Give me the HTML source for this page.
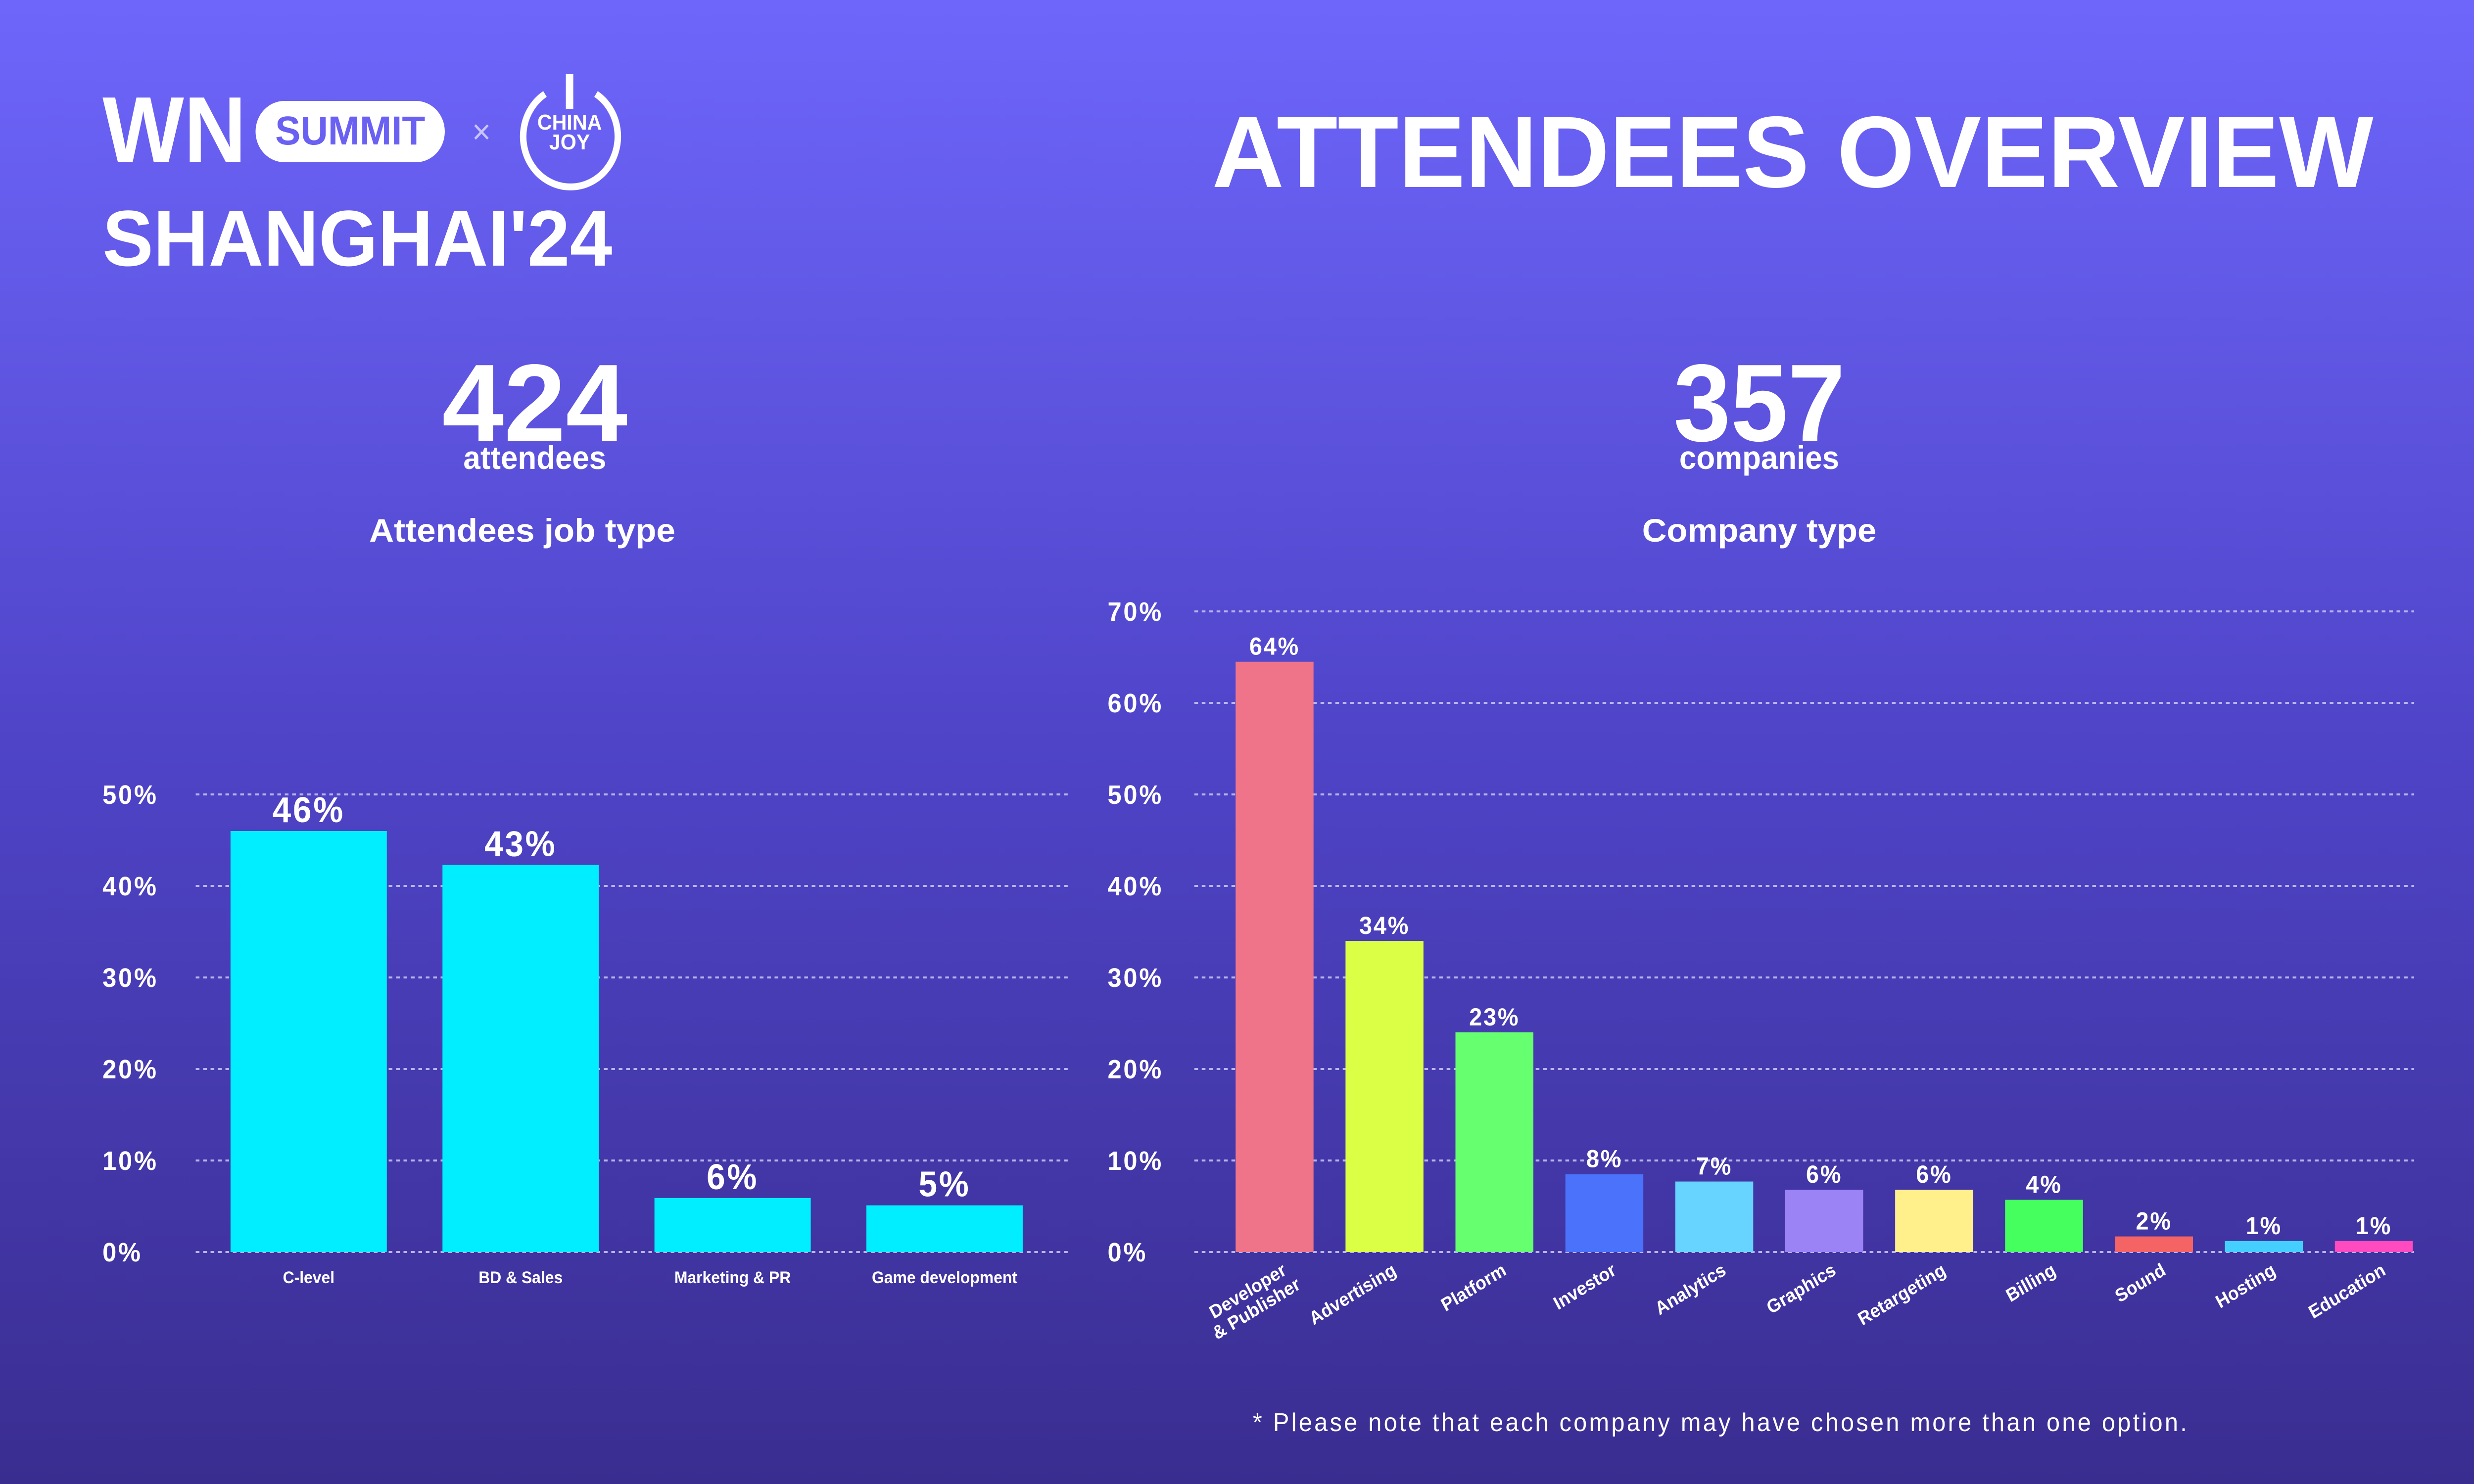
<!DOCTYPE html>
<html><head><meta charset="utf-8"><style>
html,body{margin:0;padding:0;width:100%;height:100%;overflow:hidden;background:#4f44c8}
svg{display:block;position:fixed;left:0;top:0;width:100vw;height:100vh;font-family:"Liberation Sans",sans-serif}
</style></head><body>
<svg id="root" viewBox="0 0 5334 3000" preserveAspectRatio="none">
<defs><linearGradient id="bg" x1="0" y1="0" x2="0" y2="1"><stop offset="0" stop-color="#6e66fb"/><stop offset="0.5" stop-color="#4f44c8"/><stop offset="1" stop-color="#3a2d90"/></linearGradient></defs>
<rect width="5334" height="3000" fill="url(#bg)"/>
<g fill="#fff">
<text x="221" y="328" font-size="190" font-weight="bold" textLength="310" lengthAdjust="spacingAndGlyphs">WN</text>
<rect x="551" y="204" width="408" height="124" rx="62" fill="#fff"/>
<text x="755" y="292" font-size="82" font-weight="bold" fill="#6a60f2" text-anchor="middle">SUMMIT</text>
<text x="1038" y="290" font-size="70" fill="#c8c4ff" text-anchor="middle">×</text>
<path d="M1175 190 A102 102 0 1 0 1285 190" fill="none" stroke="#fff" stroke-width="14"/>
<rect x="1220" y="150" width="16" height="70"/>
<text x="1228" y="262" font-size="44" font-weight="bold" text-anchor="middle">CHINA</text>
<text x="1228" y="302" font-size="44" font-weight="bold" text-anchor="middle">JOY</text>
<text x="221" y="537" font-size="160" font-weight="bold" textLength="1099" lengthAdjust="spacingAndGlyphs">SHANGHAI'24</text>
</g>
<text x="2613" y="378" font-size="205" font-weight="bold" fill="#fff" textLength="2504" lengthAdjust="spacingAndGlyphs">ATTENDEES OVERVIEW</text>
<g fill="#fff" font-weight="bold" text-anchor="middle">
<text x="1153" y="891" font-size="222" textLength="400" lengthAdjust="spacingAndGlyphs">424</text>
<text x="1153" y="948" font-size="66">attendees</text>
<text x="1126" y="1095" font-size="66" textLength="660" lengthAdjust="spacingAndGlyphs">Attendees job type</text>
<text x="3793" y="891" font-size="222" textLength="370" lengthAdjust="spacingAndGlyphs">357</text>
<text x="3793" y="948" font-size="66">companies</text>
<text x="3793" y="1095" font-size="66" textLength="505" lengthAdjust="spacingAndGlyphs">Company type</text>
</g>
<text x="3708" y="2893" font-size="52" fill="#fff" text-anchor="middle" textLength="2014" lengthAdjust="spacing">* Please note that each company may have chosen more than one option.</text>
<g id="left"></g>
<g id="right"></g>
</svg>
<script>
const jobCategories=["C-level","BD & Sales","Marketing & PR","Game development"];
const jobValues=[46,42.3,5.9,5.1];
const jobLabels=["46%","43%","6%","5%"];
const jobTicks=[0,10,20,30,40,50];
const compCategories=[["Developer","& Publisher"],["Advertising"],["Platform"],["Investor"],["Analytics"],["Graphics"],["Retargeting"],["Billing"],["Sound"],["Hosting"],["Education"]];
const compValues=[64.5,34,24,8.5,7.7,6.8,6.8,5.7,1.7,1.2,1.2];
const compLabels=["64%","34%","23%","8%","7%","6%","6%","4%","2%","1%","1%"];
const compColors=["#f07489","#dbff45","#66ff70","#4a72fa","#66d4ff","#9b82f5","#fff08c","#44ff5e","#f56464","#44cfff","#ff4ac0"];
const compTicks=[0,10,20,30,40,50,60,70];
const NS="http://www.w3.org/2000/svg";
const y0=2531, per10=185;
function yS(v){return y0-v/10*per10;}
function mk(p,tag,at,txt){const e=document.createElementNS(NS,tag);for(const k in at)e.setAttribute(k,at[k]);if(txt!=null)e.textContent=txt;p.appendChild(e);return e;}
const L=document.getElementById('left');
jobTicks.forEach(t=>{
 const g=mk(L,'line',{x1:422,x2:2307,y1:yS(t),y2:yS(t),stroke:'#b8b4ee','stroke-width':4,'stroke-dasharray':'8 8'});
 
 
 const l=mk(L,'text',{x:221,y:yS(t)+19,'font-size':54,'font-weight':'bold',fill:'#fff','letter-spacing':4},t+'%');
 
 
});
const lx0=497,lstep=457,lw=337;
jobValues.forEach((v,i)=>{
 const x=lx0+i*lstep;
 const b=mk(L,'rect',{x:x,y:yS(v),width:lw,height:y0-yS(v),fill:'#00eeff'});
 
 
 const t=mk(L,'text',{x:x+lw/2,y:yS(v)-18,'font-size':72,'font-weight':'bold',fill:'#fff','text-anchor':'middle','letter-spacing':4},jobLabels[i]);
 
 
 const c=mk(L,'text',{x:x+lw/2,y:2594,'font-size':34,'font-weight':'bold',fill:'#fff','text-anchor':'middle'},jobCategories[i]);
 
 
});
const R=document.getElementById('right');
compTicks.forEach(t=>{
 const g=mk(R,'line',{x1:2575,x2:5205,y1:yS(t),y2:yS(t),stroke:'#b8b4ee','stroke-width':4,'stroke-dasharray':'8 8'});
 
 
 const l=mk(R,'text',{x:2388,y:yS(t)+19,'font-size':54,'font-weight':'bold',fill:'#fff','letter-spacing':4},t+'%');
 
 
});
const rx0=2664,rstep=237,rw=168;
compValues.forEach((v,i)=>{
 const x=rx0+i*rstep;
 const b=mk(R,'rect',{x:x,y:yS(v),width:rw,height:y0-yS(v),fill:compColors[i]});
 
 
 const t=mk(R,'text',{x:x+rw/2,y:yS(v)-14,'font-size':50,'font-weight':'bold',fill:'#fff','text-anchor':'middle','letter-spacing':3},compLabels[i]);
 
 
 const cx=x+rw/2+28, cy=2575;
 const c=mk(R,'text',{x:cx,y:cy,'font-size':38,'font-weight':'bold',fill:'#fff','text-anchor':'end',transform:'rotate(-30 '+cx+' '+cy+')'});
 
 
 compCategories[i].forEach((s,j)=>{mk(c,'tspan',{x:cx+(j?12:0),dy:j?40:0},s);});
});
</script>
</body></html>
